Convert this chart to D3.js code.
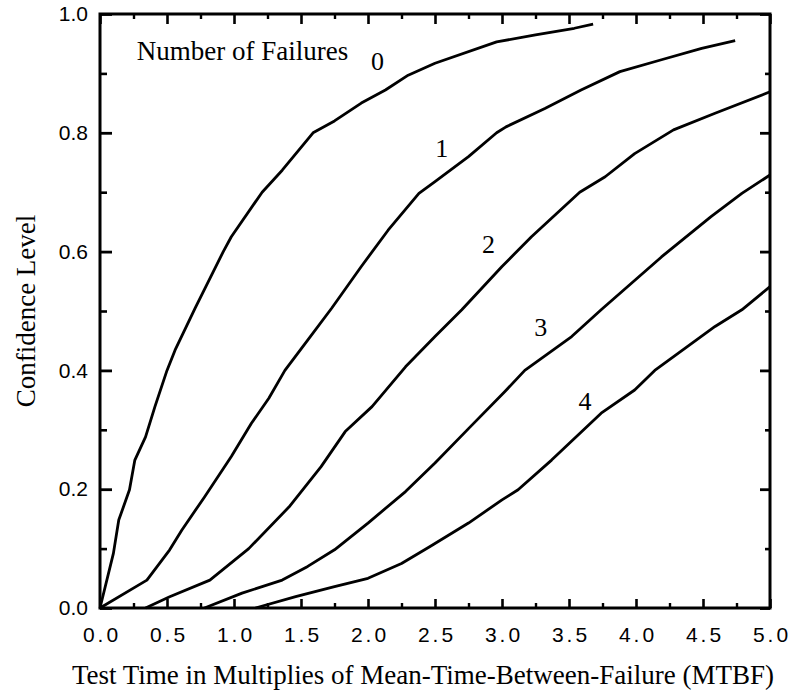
<!DOCTYPE html>
<html>
<head>
<meta charset="utf-8">
<script src="https://cdn.jsdelivr.net/npm/d3@7"></script>
<style>
  html, body { margin: 0; padding: 0; background: #fff; }
  svg { display: block; }
  .ticklab text { font-family: "Liberation Sans", Arial, sans-serif; font-size: 21px; fill: #000; }
  .serif { font-family: "Liberation Serif", "Times New Roman", serif; fill: #000; }
</style>
</head>
<body>
<svg id="chart" width="794" height="693"></svg>
<script>
// Confidence level vs. test time (in MTBF multiples) for 0..4 observed failures
const xMajor = [0, 0.5, 1.0, 1.5, 2.0, 2.5, 3.0, 3.5, 4.0, 4.5, 5.0];
const xMinor = [0.25, 0.75, 1.25, 1.75, 2.25, 2.75, 3.25, 3.75, 4.25, 4.75];
const yMajor = [0, 0.2, 0.4, 0.6, 0.8, 1.0];
const yMinor = [0.1, 0.3, 0.5, 0.7, 0.9];

const failures0 = [[0,0],[0.10,0.092],[0.14,0.148],[0.22,0.199],[0.26,0.249],[0.34,0.288],[0.41,0.339],
  [0.50,0.40],[0.56,0.434],[0.71,0.505],[0.92,0.60],[0.98,0.625],[1.21,0.70],[1.36,0.737],[1.59,0.80],
  [1.75,0.82],[1.95,0.85],[2.13,0.872],[2.30,0.897],[2.50,0.917],[2.96,0.953],[3.25,0.965],[3.54,0.976],[3.68,0.983]];
const failures1 = [[0,0],[0.35,0.047],[0.52,0.098],[0.61,0.131],[0.78,0.187],[0.98,0.255],[1.13,0.311],
  [1.26,0.353],[1.38,0.40],[1.55,0.451],[1.73,0.505],[1.95,0.575],[2.15,0.636],[2.38,0.698],[2.5,0.718],
  [2.75,0.76],[2.96,0.80],[3.03,0.81],[3.32,0.841],[3.59,0.872],[3.88,0.903],[4.19,0.923],[4.49,0.942],[4.74,0.955]];
const failures2 = [[0.34,0],[0.52,0.019],[0.82,0.047],[1.11,0.10],[1.41,0.17],[1.65,0.238],[1.83,0.297],
  [2.03,0.339],[2.28,0.406],[2.5,0.457],[2.70,0.502],[3.0,0.575],[3.22,0.625],[3.58,0.70],[3.77,0.726],
  [3.99,0.765],[4.28,0.805],[4.59,0.833],[5.0,0.869]];
const failures3 = [[0.78,0],[1.06,0.025],[1.36,0.047],[1.55,0.07],[1.75,0.098],[2.0,0.143],[2.28,0.196],
  [2.5,0.244],[2.75,0.302],[3.02,0.364],[3.17,0.40],[3.52,0.457],[3.74,0.502],[4.19,0.591],[4.56,0.659],
  [4.79,0.698],[5.0,0.729]];
const failures4 = [[1.16,0],[1.46,0.019],[1.75,0.036],[2.0,0.05],[2.25,0.075],[2.46,0.103],[2.75,0.143],
  [3.0,0.182],[3.12,0.199],[3.37,0.249],[3.74,0.328],[3.99,0.367],[4.14,0.40],[4.59,0.474],[4.79,0.502],[5.0,0.541]];
const curves = [failures0, failures1, failures2, failures3, failures4];

// curve labels: text, x (MTBF), y (confidence) of the label baseline centre
const curveLabels = [["0", 2.07, 0.906], ["1", 2.55, 0.76], ["2", 2.90, 0.597], ["3", 3.29, 0.458], ["4", 3.62, 0.333]];

const svg = d3.select("#chart");
const x = d3.scaleLinear().domain([0, 5]).range([100, 770]);
const y = d3.scaleLinear().domain([0, 1]).range([608, 14]);
const fmt = d3.format(".1f");

function styleAxis(g, w) {
  g.select(".domain").remove();
  g.selectAll(".tick line").attr("stroke", "#000").attr("stroke-width", w);
}

// bottom axis with labels
const gb = svg.append("g").attr("class", "ticklab").attr("transform", "translate(0,608)")
  .call(d3.axisBottom(x).tickValues(xMajor).tickFormat(fmt).tickSize(-9).tickPadding(19));
styleAxis(gb, 2.6);
gb.selectAll("text").attr("font-family", null).attr("font-size", null)
  .style("letter-spacing", "3px").attr("dx", "1.5px");
const gbm = svg.append("g").attr("transform", "translate(0,608)")
  .call(d3.axisBottom(x).tickValues(xMinor).tickFormat("").tickSize(-5));
styleAxis(gbm, 2.4);

// top axis ticks
const gt = svg.append("g").attr("transform", "translate(0,14)")
  .call(d3.axisTop(x).tickValues(xMajor).tickFormat("").tickSize(-10));
styleAxis(gt, 2.6);
const gtm = svg.append("g").attr("transform", "translate(0,14)")
  .call(d3.axisTop(x).tickValues(xMinor).tickFormat("").tickSize(-5));
styleAxis(gtm, 2.4);

// left axis with labels
const gl = svg.append("g").attr("class", "ticklab").attr("transform", "translate(100,0)")
  .call(d3.axisLeft(y).tickValues(yMajor).tickFormat(fmt).tickSize(-12).tickPadding(12));
styleAxis(gl, 2.8);
gl.selectAll("text").attr("font-family", null).attr("font-size", null);
const glm = svg.append("g").attr("transform", "translate(100,0)")
  .call(d3.axisLeft(y).tickValues(yMinor).tickFormat("").tickSize(-7));
styleAxis(glm, 2.6);

// right axis ticks
const gr = svg.append("g").attr("transform", "translate(770,0)")
  .call(d3.axisRight(y).tickValues(yMajor).tickFormat("").tickSize(-10));
styleAxis(gr, 2.8);
const grm = svg.append("g").attr("transform", "translate(770,0)")
  .call(d3.axisRight(y).tickValues(yMinor).tickFormat("").tickSize(-5));
styleAxis(grm, 2.6);

// plot frame
svg.append("rect")
  .attr("x", x(0)).attr("y", y(1))
  .attr("width", x(5) - x(0)).attr("height", y(0) - y(1))
  .attr("fill", "none").attr("stroke", "#000").attr("stroke-width", 3);

// confidence curves
const line = d3.line().x(d => x(d[0])).y(d => y(d[1]));
svg.append("g").selectAll("path").data(curves).join("path")
  .attr("d", line)
  .attr("fill", "none").attr("stroke", "#000").attr("stroke-width", 2.8)
  .attr("stroke-linejoin", "round").attr("stroke-linecap", "butt");

// labels
svg.append("text").attr("class", "serif")
  .attr("x", x(0.275)).attr("y", y(0.923))
  .attr("font-size", 27).text("Number of Failures");

svg.append("g").selectAll("text").data(curveLabels).join("text")
  .attr("class", "serif")
  .attr("x", d => x(d[1])).attr("y", d => y(d[2]))
  .attr("text-anchor", "middle").attr("font-size", 26)
  .text(d => d[0]);

svg.append("text").attr("class", "serif")
  .attr("x", 423).attr("y", 684).attr("text-anchor", "middle")
  .attr("font-size", 27)
  .text("Test Time in Multiplies of Mean-Time-Between-Failure (MTBF)");

svg.append("text").attr("class", "serif")
  .attr("transform", "translate(35," + ((y(0) + y(1)) / 2) + ") rotate(-90)")
  .attr("text-anchor", "middle").attr("font-size", 27)
  .text("Confidence Level");
</script>
</body>
</html>
